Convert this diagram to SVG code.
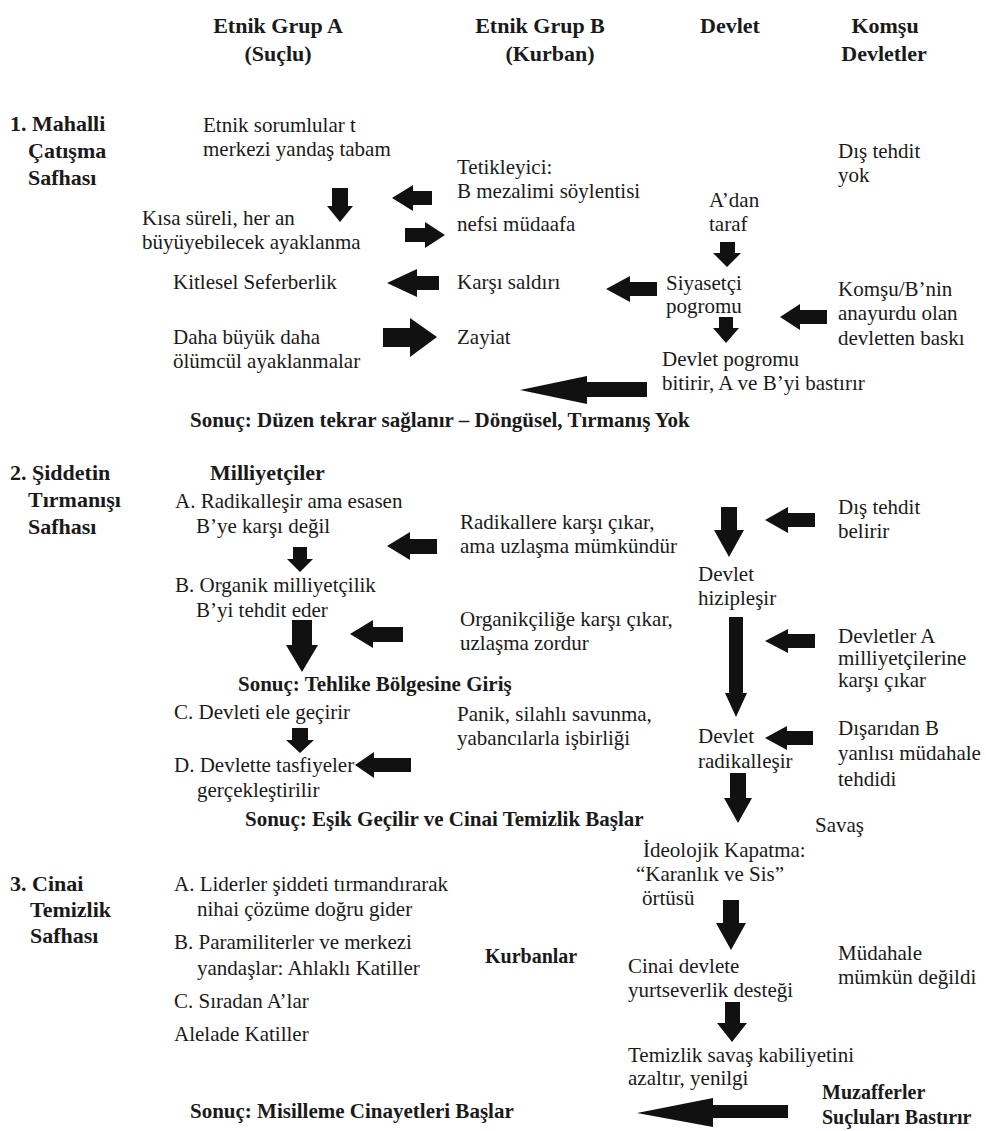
<svg xmlns="http://www.w3.org/2000/svg" width="986" height="1131" viewBox="0 0 986 1131">
<style>
text{font-family:"Liberation Serif","Times New Roman",serif;fill:#1a1a1a;font-size:21px}
.h{font-weight:bold;font-size:22px}
.hc{font-weight:bold;font-size:22px;text-anchor:middle}
.s{font-weight:bold;font-size:21px}
.k{font-weight:bold;font-size:20px}
.arr{fill:#111;stroke:none}
</style>
<rect width="986" height="1131" fill="#fff"/>
<g id="headers">
<g id="col-a"><text class="hc" x="278" y="33">Etnik Grup A</text><text class="hc" x="278" y="61">(Suçlu)</text></g>
<g id="col-b"><text class="hc" x="540" y="33">Etnik Grup B</text><text class="hc" x="550" y="61">(Kurban)</text></g>
<g id="col-devlet"><text class="hc" x="730" y="33">Devlet</text></g>
<g id="col-komsu"><text class="hc" x="885" y="33">Komşu</text><text class="hc" x="884" y="61">Devletler</text></g>
</g>
<g id="stage1-label"><text class="h" x="10" y="131">1. Mahalli</text><text class="h" x="28" y="158">Çatışma</text><text class="h" x="28" y="185">Safhası</text></g>
<g id="s1-etnik"><text x="203" y="132">Etnik sorumlular t</text><text x="203" y="156">merkezi yandaş tabam</text></g>
<g id="s1-tetik"><text x="457" y="174">Tetikleyici:</text><text x="457" y="198">B mezalimi söylentisi</text></g>
<g id="s1-distehdit"><text x="838" y="158">Dış tehdit</text><text x="838" y="182">yok</text></g>
<g id="s1-adan"><text x="709" y="207">A’dan</text><text x="709" y="231">taraf</text></g>
<g id="s1-kisa"><text x="142" y="225">Kısa süreli, her an</text><text x="142" y="249">büyüyebilecek ayaklanma</text></g>
<g id="s1-nefsi"><text x="457" y="231">nefsi müdaafa</text></g>
<g id="s1-kitlesel"><text x="173" y="289">Kitlesel Seferberlik</text></g>
<g id="s1-karsi"><text x="457" y="289">Karşı saldırı</text></g>
<g id="s1-siyasetci"><text x="666" y="290">Siyasetçi</text><text x="666" y="313">pogromu</text></g>
<g id="s1-komsu"><text x="838" y="296">Komşu/B’nin</text><text x="838" y="320">anayurdu olan</text><text x="838" y="345">devletten baskı</text></g>
<g id="s1-daha"><text x="173" y="344">Daha büyük daha</text><text x="173" y="368">ölümcül ayaklanmalar</text></g>
<g id="s1-zayiat"><text x="457" y="344">Zayiat</text></g>
<g id="s1-devlet"><text x="662" y="366">Devlet pogromu</text><text x="662" y="390">bitirir, A ve B’yi bastırır</text></g>
<g id="s1-sonuc"><text class="s" x="190" y="427">Sonuç: Düzen tekrar sağlanır – Döngüsel, Tırmanış Yok</text></g>

<g id="stage2-label"><text class="h" x="10" y="480">2. Şiddetin</text><text class="h" x="28" y="507">Tırmanışı</text><text class="h" x="28" y="534">Safhası</text></g>
<g id="s2-milliyetciler"><text class="h" x="210" y="480">Milliyetçiler</text></g>
<g id="s2-a"><text x="175" y="508">A. Radikalleşir ama esasen</text><text x="196" y="533">B’ye karşı değil</text></g>
<g id="s2-radikallere"><text x="460" y="529">Radikallere karşı çıkar,</text><text x="460" y="553">ama uzlaşma mümkündür</text></g>
<g id="s2-distehdit"><text x="838" y="514">Dış tehdit</text><text x="838" y="538">belirir</text></g>
<g id="s2-hizip"><text x="698" y="581">Devlet</text><text x="698" y="605">hizipleşir</text></g>
<g id="s2-b"><text x="175" y="592">B. Organik milliyetçilik</text><text x="196" y="617">B’yi tehdit eder</text></g>
<g id="s2-organik"><text x="460" y="626">Organikçiliğe karşı çıkar,</text><text x="460" y="650">uzlaşma zordur</text></g>
<g id="s2-devletler"><text x="838" y="643">Devletler A</text><text x="838" y="665">milliyetçilerine</text><text x="838" y="687">karşı çıkar</text></g>
<g id="s2-sonuc1"><text class="s" x="238" y="691">Sonuç: Tehlike Bölgesine Giriş</text></g>
<g id="s2-c"><text x="174" y="719">C. Devleti ele geçirir</text></g>
<g id="s2-panik"><text x="457" y="721">Panik, silahlı savunma,</text><text x="457" y="745">yabancılarla işbirliği</text></g>
<g id="s2-radikal"><text x="698" y="743">Devlet</text><text x="698" y="768">radikalleşir</text></g>
<g id="s2-disaridan"><text x="838" y="735">Dışarıdan B</text><text x="838" y="760">yanlısı müdahale</text><text x="838" y="786">tehdidi</text></g>
<g id="s2-d"><text x="174" y="772">D. Devlette tasfiyeler</text><text x="197" y="797">gerçekleştirilir</text></g>
<g id="s2-sonuc2"><text class="s" x="245" y="826">Sonuç: Eşik Geçilir ve Cinai Temizlik Başlar</text></g>
<g id="s2-savas"><text x="815" y="832">Savaş</text></g>

<g id="s3-ideolojik"><text x="643" y="857">İdeolojik Kapatma:</text><text x="636" y="881">“Karanlık ve Sis”</text><text x="642" y="905">örtüsü</text></g>
<g id="stage3-label"><text class="h" x="10" y="891">3. Cinai</text><text class="h" x="30" y="917">Temizlik</text><text class="h" x="30" y="943">Safhası</text></g>
<g id="s3-a"><text x="174" y="891">A. Liderler şiddeti tırmandırarak</text><text x="197" y="916">nihai çözüme doğru gider</text></g>
<g id="s3-b"><text x="174" y="949">B. Paramiliterler ve merkezi</text><text x="197" y="975">yandaşlar: Ahlaklı Katiller</text></g>
<g id="s3-kurbanlar"><text class="k" x="485" y="963">Kurbanlar</text></g>
<g id="s3-cinai"><text x="628" y="973">Cinai devlete</text><text x="628" y="997">yurtseverlik desteği</text></g>
<g id="s3-mudahale"><text x="838" y="960">Müdahale</text><text x="838" y="984">mümkün değildi</text></g>
<g id="s3-c"><text x="174" y="1008">C. Sıradan A’lar</text></g>
<g id="s3-alelade"><text x="174" y="1041">Alelade Katiller</text></g>
<g id="s3-temizlik"><text x="628" y="1062">Temizlik savaş kabiliyetini</text><text x="628" y="1085">azaltır, yenilgi</text></g>
<g id="s3-muzaffer"><text class="k" x="822" y="1099">Muzafferler</text><text class="k" x="822" y="1124">Suçluları Bastırır</text></g>
<g id="s3-sonuc"><text class="s" x="190" y="1118">Sonuç: Misilleme Cinayetleri Başlar</text></g>

<g id="connectors" class="arr">
<path d="M332,188H348V206H353L340,222L327,206H332Z"/>
<path d="M392,198L413,185V191H432V205H413V211Z"/>
<path d="M405,228H425V222L445,235L425,248V242H405Z"/>
<path d="M720,242H735V253H741L727,267L713,253H720Z"/>
<path d="M387,283L417,269V276H439V290H417V297Z"/>
<path d="M606,289L630,276V282H657V296H630V302Z"/>
<path d="M719,317H733V328H739L726,343L713,328H719Z"/>
<path d="M780,317L800,304V310H827V324H800V330Z"/>
<path d="M383,328H410V318L437,337L410,357V347H383Z"/>
<path d="M520,390L587,376V382H647V397H587V404Z"/>
<path d="M387,546L410,532V539H437V554H410V560Z"/>
<path d="M765,520L788,507V513H815V527H788V533Z"/>
<path d="M721,507H737V530H744L729,557L714,530H721Z"/>
<path d="M293,547H307V559H313L300,572L287,559H293Z"/>
<path d="M350,634L373,620V627H403V642H373V648Z"/>
<path d="M292,620H312V645H318L302,672L286,645H292Z"/>
<path d="M729,617H743V693H747L736,717L725,693H729Z"/>
<path d="M765,641L788,629V634H815V648H788V653Z"/>
<path d="M292,728H308V740H314L300,753L286,740H292Z"/>
<path d="M355,765L374,752V758H411V772H374V778Z"/>
<path d="M765,738L787,726V731H813V745H787V750Z"/>
<path d="M730,773H746V798H752L738,823L724,798H730Z"/>
<path d="M723,900H739V923H746L731,950L716,923H723Z"/>
<path d="M725,1002H740V1023H747L732,1042L717,1023H725Z"/>
<path d="M637,1113L713,1098V1105H788V1118H713V1127Z"/>
</g>
</svg>
